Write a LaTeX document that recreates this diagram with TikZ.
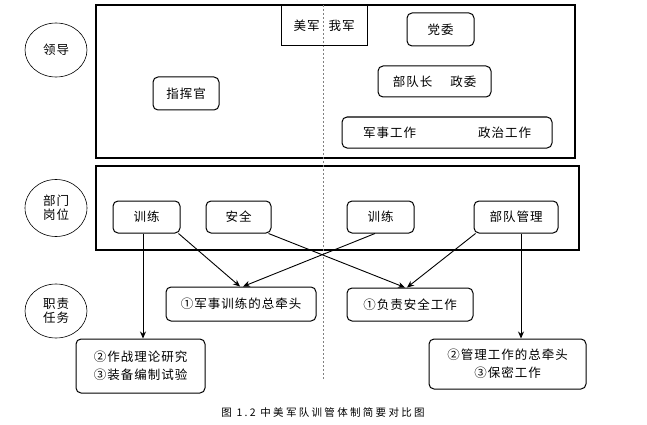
\documentclass[tikz,border=0pt]{standalone}
\usepackage{fontspec}
\setmainfont{Noto Sans CJK SC}[LetterSpace=8]
\newfontfamily\capfont{Noto Sans CJK SC}[LetterSpace=22]
\usetikzlibrary{arrows.meta,shapes.geometric,calc}
\begin{document}
\begin{tikzpicture}[x=1pt,y=-1pt,
  every node/.style={font=\fontsize{12.5}{18}\selectfont, inner sep=0pt},
  rbox/.style n args={2}{draw, rounded corners=5pt, line width=1pt, minimum width=#1, minimum height=#2, align=center},
  frame/.style={draw, line width=1.3pt},
  oval/.style={draw, ellipse, line width=0.6pt, minimum width=62pt, minimum height=#1, align=center},
  arr/.style={draw, line width=0.9pt, -{Stealth[length=7pt,width=6pt]}},
  divider/.style={draw=gray, line width=1pt, dash pattern=on 2pt off 2pt}
]
\useasboundingbox (0,0) rectangle (647,425);
\fill[white] (0,0) rectangle (647,425);
% frames
\draw[frame] (96,5) rectangle (575,158);
\draw[frame] (96,166) rectangle (579,250);
% divider
\coordinate (dtop) at (323,5);
\coordinate (dbot) at (323,380);
\draw[divider] (dtop) -- (dbot);
% header box
\node[draw, line width=1pt, minimum width=86pt, minimum height=41pt] (hdr) at (324,25.5) {美军\hspace{9pt}我军};
% ovals
\node[oval=54pt] (ld) at (56,50) {领导};
\node[oval=57pt] (bm) at (56,208) {部门\\[-4pt]岗位};
\node[oval=54pt] (zz) at (56,311) {职责\\[-4pt]任务};
% leadership
\node[rbox={66pt}{33pt}] (zhg) at (186,93.5) {指挥官};
\node[rbox={67pt}{33pt}] (dw) at (440.5,29.5) {党委};
\node[rbox={113pt}{31pt}] (bdz) at (434.5,81.5) {部队长\hspace{18pt}政委};
\node[rbox={210pt}{31pt}] (gz) at (447,132.5) {军事工作\hspace{62pt}政治工作};
% departments
\node[rbox={67pt}{32pt}] (tl) at (146.5,217) {训练};
\node[rbox={65pt}{32pt}] (aq) at (238.5,217) {安全};
\node[rbox={67pt}{32pt}] (tr) at (380.5,217) {训练};
\node[rbox={84pt}{32pt}] (gl) at (516,217) {部队管理};
% duties
\node[rbox={150pt}{34pt}] (j1) at (241,304) {①军事训练的总牵头};
\node[rbox={126pt}{33pt}] (f1) at (410,304.5) {①负责安全工作};
\node[rbox={129pt}{54pt}] (l23) at (140.5,366) {②作战理论研究\\③装备编制试验};
\node[rbox={157pt}{50pt}] (r23) at (507.5,364) {②管理工作的总牵头\\③保密工作};
% arrows
\draw[arr] ([xshift=-3.5pt]tl.south) -- ([xshift=-3.5pt]tl.south |- l23.north);
\draw[arr] ([xshift=-2pt]tl.south east) -- ([xshift=-1pt]j1.north);
\draw[arr] ([xshift=-3pt]aq.south east) -- ([xshift=-5pt]f1.north);
\draw[arr] ([xshift=-5.5pt]tr.south) -- ([xshift=2pt]j1.north);
\draw[arr] ([xshift=2pt]gl.south west) -- ([xshift=-3pt]f1.north);
\draw[arr] ([xshift=5pt]gl.south) -- ([xshift=5pt]gl.south |- r23.north);
% caption
\node[font=\capfont\fontsize{10.5}{12}\selectfont] (cap) at (323,412) {图 1.2 中美军队训管体制简要对比图};
\end{tikzpicture}
\end{document}
